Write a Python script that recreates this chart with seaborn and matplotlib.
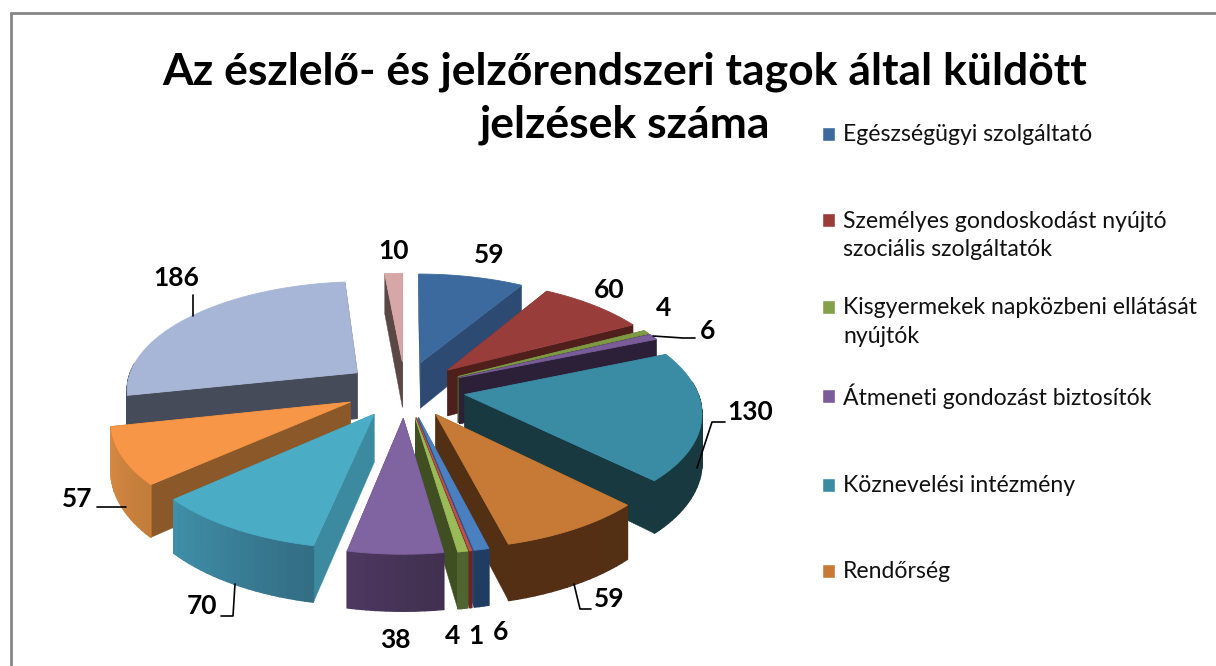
import numpy as np
import matplotlib
matplotlib.use("Agg")
import matplotlib.pyplot as plt
from matplotlib.patches import Patch, Rectangle
from matplotlib.legend_handler import HandlerPatch
from matplotlib.colors import to_rgb
import seaborn as sns

# ---- data ----
title = "Az észlelő- és jelzőrendszeri tagok által küldött\njelzések száma"
values = [59, 60, 4, 6, 130, 59, 6, 1, 4, 38, 70, 57, 186, 10]
legend_labels = [
    "Egészségügyi szolgáltató",
    "Személyes gondoskodást nyújtó\nszociális szolgáltatók",
    "Kisgyermekek napközbeni ellátását\nnyújtók",
    "Átmeneti gondozást biztosítók",
    "Köznevelési intézmény",
    "Rendőrség",
]

# ---- styles ----
top_colors = ["#3d6a9e", "#993d3b", "#7f9a45", "#7a5c9b", "#3a8ca5", "#c77a35",
              "#4a7fc0", "#c0504d", "#9bbb59", "#8064a2", "#4bacc6", "#f79646",
              "#a7b6d6", "#d7a6a6"]
radial_colors = ["#2c4a72", "#4f1f1c", "#4a5a25", "#2c2038", "#17393f", "#532f14",
                 "#2c5080", "#6b2525", "#3f4f22", "#3d2d55", "#3b8aa0", "#8a5829",
                 "#454b59", "#5b4846"]
arc_start_colors = ["#2c4a72", "#4f1f1c", "#4a5a25", "#2c2038", "#17393f", "#532f14",
                    "#1f3d63", "#6b2525", "#4f6430", "#41304f", "#336e85", "#c47c3a",
                    "#454b59", "#5b4846"]
arc_end_colors = ["#2c4a72", "#4f1f1c", "#4a5a25", "#2c2038", "#17393f", "#552f13",
                  "#1f3d63", "#6b2525", "#4f6430", "#4d3860", "#3f8fa8", "#d68b45",
                  "#454b59", "#5b4846"]
legend_colors = sns.color_palette(["#3d6a9e", "#993d3b", "#83a04a", "#7a5c9b", "#3a8ca5", "#c77a35"])

label_pos = [(489, 255), (609, 290), (664, 308), (708, 331), (750, 412), (609, 599),
             (501, 632), (476, 636), (453, 636), (395, 640), (202, 606), (77, 499),
             (176, 278), (393, 251)]
leaders = [[(193, 295), (193, 316)],
           [(653, 336), (683, 338), (695, 338)],
           [(697, 468), (712, 422), (725, 422)],
           [(97, 507), (126, 507)],
           [(235, 584), (233, 616), (221, 616)],
           [(574, 584), (580, 609), (591, 609)]]

# projection of the tilted pie
CX, CY = 405.0, 389.0
SX, SY, DEPTH, PERSP, EXPLODE = 232.0, 108.0, 47.0, 0.14, 0.26


def project(X, Y, Z=0.0):
    w = 1 + PERSP * np.asarray(Y)
    return CX + SX * np.asarray(X) / w, CY + (-SY * np.asarray(Y) + DEPTH * Z) / w


def mix(c1, c2, t):
    return tuple((1 - t) * a + t * b for a, b in zip(to_rgb(c1), to_rgb(c2)))


sns.set_theme(style="white")
plt.rcParams["font.family"] = ["Lato", "DejaVu Sans"]

fig = plt.figure(figsize=(12.16, 6.66), dpi=100, facecolor="white")
ax = fig.add_axes([0, 0, 1, 1])
ax.set_xlim(0, 1216)
ax.set_ylim(666, 0)
ax.axis("off")

# frame of the chart area (only top and left are inside the picture)
ax.plot([10.5, 10.5, 1216], [666, 12.5, 12.5], color="#868686", lw=2.0, zorder=1, solid_joinstyle="miter")

# slices
edges = np.cumsum([0] + values) / sum(values) * 2 * np.pi
slices = []
for i in range(len(values)):
    a1, a2 = edges[i], edges[i + 1]
    mid = (a1 + a2) / 2
    slices.append((EXPLODE * np.cos(mid), i, a1, a2, EXPLODE * np.sin(mid)))
slices.sort(key=lambda s: -s[0])

z = 2
for oy, i, a1, a2, ox in slices:
    n = max(4, int((a2 - a1) / 0.03))
    th = np.linspace(a1, a2, n)
    ax_x, ax_y = ox + np.sin(th), oy + np.cos(th)
    faces = []
    # radial faces
    for ang in (a1, a2):
        X = np.array([ox, ox + np.sin(ang), ox + np.sin(ang), ox])
        Y = np.array([oy, oy + np.cos(ang), oy + np.cos(ang), oy])
        Z = np.array([0, 0, 1, 1])
        faces.append((Y.mean(), X, Y, Z, radial_colors[i], 0.3))
    # outer arc: only the part that faces the viewer
    for j in range(n - 1):
        if np.cos((th[j] + th[j + 1]) / 2) > 0.1:
            continue
        X = np.array([ax_x[j], ax_x[j + 1], ax_x[j + 1], ax_x[j]])
        Y = np.array([ax_y[j], ax_y[j + 1], ax_y[j + 1], ax_y[j]])
        Z = np.array([0, 0, 1, 1])
        faces.append((Y.mean(), X, Y, Z, mix(arc_start_colors[i], arc_end_colors[i], j / max(1, n - 2)), 1.0))
    faces.sort(key=lambda f: -f[0])
    for _, X, Y, Z, col, lw in faces:
        u, v = project(X, Y, Z)
        ax.fill(u, v, color=col, lw=lw, zorder=z)
    u, v = project(np.r_[ox, ax_x], np.r_[oy, ax_y])
    ax.fill(u, v, color=top_colors[i], lw=0.6, zorder=z + 1)
    z += 2

# data labels and leader lines
for val, (x, y) in zip(values, label_pos):
    ax.text(x, y, str(val), ha="center", va="center", fontsize=19, fontweight="bold",
            color="black", zorder=100)
for pts in leaders:
    xs, ys = zip(*pts)
    ax.plot(xs, ys, color="black", lw=1.2, zorder=100)

fig.suptitle(title, x=625 / 1216, y=1 - 51 / 666, va="top", ha="center", fontsize=32,
             fontweight="bold", color="black", linespacing=1.4)


# legend: swatch sits on the first text line of every entry
def first_line_patch(legend, orig_handle, xdescent, ydescent, width, height, fontsize):
    return Rectangle((-xdescent, -ydescent + 11), width, height, facecolor=orig_handle.get_facecolor(),
                     edgecolor="none")


handles = [Patch(facecolor=c, label=l if "\n" in l else l + "\n ") for c, l in zip(legend_colors, legend_labels)]
leg = ax.legend(handles=handles, loc="upper left", bbox_to_anchor=(822 / 1216, 1 - 124 / 666),
                frameon=False, fontsize=16.6, labelspacing=1.6, handlelength=0.56, handleheight=0.56,
                handletextpad=0.35, borderpad=0, borderaxespad=0,
                handler_map={Patch: HandlerPatch(patch_func=first_line_patch)})
leg.set_zorder(100)
for t in leg.get_texts():
    t.set_color("#111111")
    t.set_linespacing(1.45)

fig.savefig("out.png", dpi=100, facecolor="white")
